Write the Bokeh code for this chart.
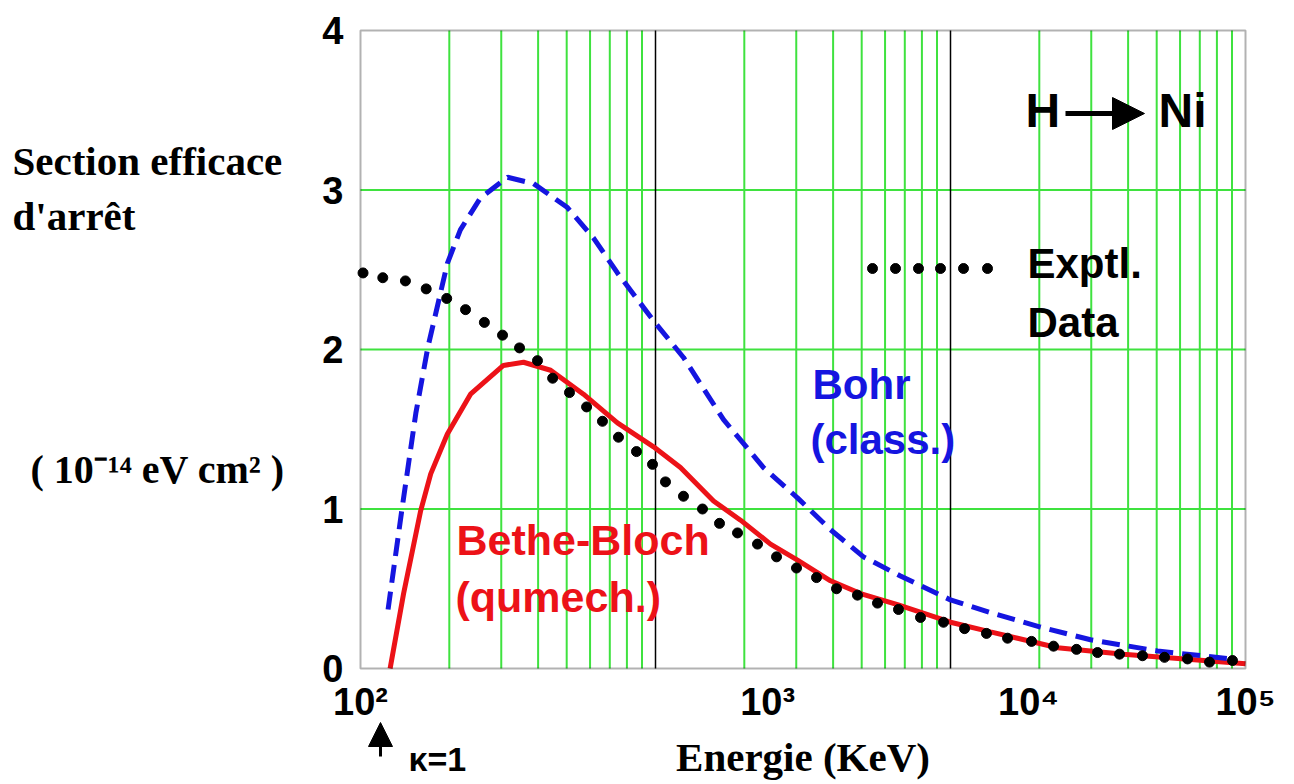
from bokeh.plotting import figure
from bokeh.models import Range1d, FixedTicker, Label, Arrow, NormalHead, BoxAnnotation
from bokeh.embed import file_html
from bokeh.resources import INLINE

# ---------------- data ----------------
# Bethe-Bloch (quantum mechanical), energy in keV, stopping cross-section in 1e-14 eV cm2
bethe_energy = [126, 140, 160, 173, 197, 236, 305, 357, 441, 570, 743, 985, 1215,
                1573, 1942, 2454, 3029, 3920, 4955, 6612, 10000, 13660, 23060,
                38590, 100000]
bethe_s = [0.00, 0.47, 0.99, 1.22, 1.47, 1.72, 1.90, 1.92, 1.87, 1.72, 1.54, 1.39,
           1.26, 1.05, 0.93, 0.78, 0.68, 0.55, 0.47, 0.40, 0.29, 0.23, 0.13,
           0.09, 0.03]

# Bohr (classical)
bohr_energy = [124, 138, 154, 169, 197, 218, 255, 315, 386, 503, 616, 743, 985, 1244,
               1701, 2323, 3029, 3920, 5071, 6768, 10000, 13660, 20180, 29830,
               50310, 88960]
bohr_s = [0.37, 0.99, 1.60, 2.01, 2.54, 2.75, 2.95, 3.08, 3.04, 2.89, 2.70, 2.48,
          2.18, 1.95, 1.56, 1.26, 1.07, 0.87, 0.70, 0.58, 0.43, 0.35, 0.26,
          0.18, 0.11, 0.06]

# Experimental data
exp_energy = [102, 119, 142, 167, 196, 227, 263, 303, 346, 398, 448, 511, 584, 661,
              749, 862, 977, 1081, 1244, 1443, 1648, 1897, 2217, 2572, 3006, 3514,
              4108, 4838, 5656, 6664, 7913, 9469, 11160, 13240, 15610, 18820, 22350,
              26740, 31510, 37410, 44750, 53150, 63610, 75510, 90350]
exp_s = [2.48, 2.45, 2.43, 2.38, 2.32, 2.25, 2.17, 2.09, 2.01, 1.93, 1.82, 1.73,
         1.64, 1.55, 1.45, 1.36, 1.28, 1.17, 1.08, 1.00, 0.91, 0.85, 0.78, 0.70,
         0.63, 0.57, 0.50, 0.46, 0.41, 0.37, 0.32, 0.29, 0.25, 0.22, 0.19, 0.17,
         0.14, 0.12, 0.10, 0.09, 0.08, 0.07, 0.06, 0.04, 0.05]

x_min, x_max = 100, 100000
y_min, y_max = 0, 4
y_ticks = [0, 1, 2, 3, 4]
x_tick_pos = [100, 2400, 18400, 100000]
x_tick_labels = ["10²", "10³", "10⁴", "10⁵"]
x_minor_grid = [k * 10 ** d for d in (2, 3, 4) for k in range(2, 10)]
x_major_grid = [1000, 10000]
y_grid = [1, 2, 3]

GREEN = "#3fe23f"
BLUE = "#1515e0"
RED = "#ec1218"
SANS = "Liberation Sans"
SERIF = "Liberation Serif"

W, H = 1290, 780
FRAME_L, FRAME_B = 360, 668          # plot box left / bottom, picture pixels
PX_PER_DECADE, PX_PER_UNIT = 295.0, 159.5

# helpers: picture pixel -> data units (for annotation placement)
def ax(px):
    return 10 ** (2 + (px - FRAME_L) / PX_PER_DECADE)

def ay(py):
    return (FRAME_B - py) / PX_PER_UNIT

p = figure(width=W, height=H, x_axis_type="log",
           x_range=Range1d(ax(0), ax(W)), y_range=Range1d(ay(H), ay(0)),
           output_backend="svg", toolbar_location=None,
           min_border_left=0, min_border_right=0,
           min_border_top=0, min_border_bottom=0,
           background_fill_color="white", border_fill_color="white",
           outline_line_color=None)

p.xgrid.visible = False
p.ygrid.visible = False

# grid of the plot box
n = len(x_minor_grid)
p.segment(x0=x_minor_grid, y0=[y_min] * n, x1=x_minor_grid, y1=[y_max] * n,
          line_color=GREEN, line_width=2)
p.segment(x0=[x_min] * len(y_grid), y0=y_grid, x1=[x_max] * len(y_grid), y1=y_grid,
          line_color=GREEN, line_width=2)
p.segment(x0=x_major_grid, y0=[y_min] * 2, x1=x_major_grid, y1=[y_max] * 2,
          line_color="black", line_width=1.5)
p.add_layout(BoxAnnotation(left=x_min, right=x_max, bottom=y_min, top=y_max,
                           fill_color=None, line_color="black", line_width=2))

# axes, fixed on the plot box edges
p.xaxis.fixed_location = y_min
p.yaxis.fixed_location = x_min
p.xaxis.bounds = (x_min, x_max)
p.yaxis.bounds = (y_min, y_max)
p.yaxis.ticker = FixedTicker(ticks=y_ticks)
p.xaxis.ticker = FixedTicker(ticks=x_tick_pos)
p.xaxis.major_label_overrides = {t: l for t, l in zip(x_tick_pos, x_tick_labels)}
for a in (p.xaxis, p.yaxis):
    a.axis_line_color = None
    a.major_tick_line_color = None
    a.minor_tick_line_color = None
    a.major_tick_in = 0
    a.major_tick_out = 0
    a.minor_tick_in = 0
    a.minor_tick_out = 0
    a.major_label_text_font = SANS
    a.major_label_text_font_style = "bold"
    a.major_label_text_font_size = "38px"
    a.major_label_text_color = "black"
p.yaxis.major_label_standoff = 17
p.xaxis.major_label_standoff = 12
p.xaxis.axis_label = "Energie (KeV)"
p.xaxis.axis_label_text_font = SERIF
p.xaxis.axis_label_text_font_style = "bold"
p.xaxis.axis_label_text_font_size = "41px"
p.xaxis.axis_label_text_color = "black"
p.xaxis.axis_label_standoff = 8

# curves
p.line(bethe_energy, bethe_s, line_color=RED, line_width=5)
p.line(bohr_energy, bohr_s, line_color=BLUE, line_width=5, line_dash="18 9")
p.scatter(exp_energy, exp_s, size=10, color="black")

# legend sample for experimental data
legend_px = [872, 895, 918, 940, 963, 987]
p.scatter([ax(v) for v in legend_px], [ay(268)] * len(legend_px), size=10, color="black")

def lab(text, px, py, fs, color="black", font=SANS, align="left"):
    # py: wanted baseline in picture pixels; Label's anchor sits ~0.37 em below it
    p.add_layout(Label(x=ax(px), y=ay(py - 0.37 * fs), text=text, text_font=font,
                       text_font_size="%dpx" % fs, text_font_style="bold",
                       text_color=color, text_align=align,
                       text_baseline="alphabetic"))

lab("Section efficace", 12, 176, 41, font=SERIF)
lab("d'arrêt", 12, 231, 41, font=SERIF)
lab("( 10⁻¹⁴ eV cm² )", 30, 484, 40, font=SERIF)
lab("κ=1", 408, 771, 34)

lab("H", 1025, 128, 48)
lab("Ni", 1158, 128, 48)
lab("Exptl.", 1027, 279, 42)
lab("Data", 1027, 338, 42)
lab("Bohr", 812, 400, 42, color=BLUE)
lab("(class.)", 810, 455, 42, color=BLUE)
lab("Bethe-Bloch", 456, 555, 43, color=RED)
lab("(qumech.)", 455, 612, 43, color=RED)

p.add_layout(Arrow(end=NormalHead(size=32, fill_color="black", line_color="black"),
                   x_start=ax(1065), y_start=ay(113), x_end=ax(1144), y_end=ay(113),
                   line_width=5, line_color="black"))
p.add_layout(Arrow(end=NormalHead(size=24, fill_color="black", line_color="black"),
                   x_start=ax(380), y_start=ay(756), x_end=ax(380), y_end=ay(722),
                   line_width=3, line_color="black"))

open("out.html", "w").write(file_html(p, INLINE))
